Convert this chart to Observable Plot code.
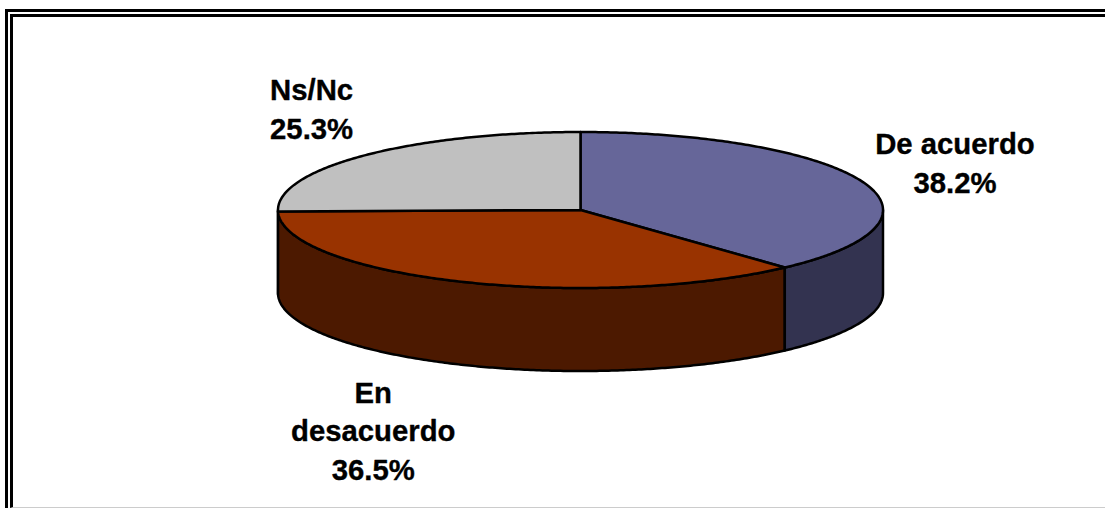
<!DOCTYPE html>
<html>
<head>
<meta charset="utf-8">
<script src="https://cdn.jsdelivr.net/npm/d3@7"></script>
<script src="https://cdn.jsdelivr.net/npm/@observablehq/plot@0.6"></script>
<style>
  html, body { margin: 0; padding: 0; background: #fff; overflow: hidden; }
  #stage { position: relative; width: 1105px; height: 508px; overflow: hidden; }
  #stage svg { position: absolute; left: 0; top: 0; background: transparent; }
  .frame { position: absolute; box-sizing: border-box; border-style: solid; border-color: #000; border-width: 3px 0 0 3px; right: 0; bottom: 0; }
  #outer { left: 5px; top: 9px; }
  #inner { left: 10px; top: 14px; border-bottom: 1px solid #ccc; }
</style>
</head>
<body>
<div id="stage">
  <div class="frame" id="outer"></div>
  <div class="frame" id="inner"></div>
</div>
<script>
const categories = ["De acuerdo", "En desacuerdo", "Ns/Nc"];
const shares = [38.2, 36.5, 25.3];
const tickLabels = ["De acuerdo\n38.2%", "En\ndesacuerdo\n36.5%", "Ns/Nc\n25.3%"];
const topColors = ["#666699", "#993300", "#C0C0C0"];
const sideColors = ["#333350", "#4C1900", "#606060"];

// Pie geometry in pixels
const W = 1105, H = 508;
const cx = 580, cy = 209.5, rx = 302.5, ry = 78, depth = 83;
const total = d3.sum(shares);
const unitDepth = depth / ry;

// Slice angles, clockwise from 12 o'clock
let acc = 0;
const slices = categories.map((name, i) => {
  const a0 = acc / total * 2 * Math.PI;
  acc += shares[i];
  const a1 = acc / total * 2 * Math.PI;
  return {name, a0, a1, mid: (a0 + a1) / 2, label: tickLabels[i], top: topColors[i], side: sideColors[i]};
});

function arc(a0, a1, drop = 0) {
  const n = Math.max(2, Math.ceil((a1 - a0) / 0.01));
  return d3.range(n + 1).map(k => {
    const t = a0 + (a1 - a0) * k / n;
    return {x: Math.sin(t), y: Math.cos(t) - drop};
  });
}
function wedge(s) {
  const c = {x: 0, y: 0};
  return [c, ...arc(s.a0, s.a1), c];
}
function wall(s) {
  const lo = Math.max(s.a0, Math.PI / 2), hi = Math.min(s.a1, 3 * Math.PI / 2);
  if (hi <= lo) return null;
  const upper = arc(lo, hi), lower = arc(lo, hi, unitDepth).reverse();
  return [...upper, ...lower, upper[0]];
}

const outline = {x: "x", y: "y", stroke: "#000", strokeWidth: 2.5, strokeLinejoin: "round", curve: "linear"};
const walls = slices.filter(wall).sort((a, b) => b.a0 - a.a0)
  .map(s => Plot.line(wall(s), {...outline, fill: s.side}));
const tops = slices.map(s => Plot.line(wedge(s), {...outline, fill: s.top}));

const labelOffsets = [[92.5, -20.5], [-88, 147.5], [-53, -48]];
const labels = slices.map((s, i) => Plot.text([s], {
  x: d => Math.sin(d.mid),
  y: d => Math.cos(d.mid),
  text: "label",
  dx: labelOffsets[i][0],
  dy: labelOffsets[i][1],
  textAnchor: "middle",
  lineAnchor: "middle",
  lineHeight: 1.31,
  fontFamily: "Liberation Sans, Arial, sans-serif",
  fontWeight: "bold",
  fontSize: 29.3,
  fill: "#000",
  stroke: "#000",
  strokeWidth: 0.35
}));

const chart = Plot.plot({
  width: W,
  height: H,
  margin: 0,
  style: {background: "transparent"},
  x: {domain: [-cx / rx, (W - cx) / rx], range: [0, W], axis: null},
  y: {domain: [cy / ry, (cy - H) / ry], range: [0, H], axis: null},
  marks: [...walls, ...tops, ...labels]
});
document.getElementById("stage").appendChild(chart);
</script>
</body>
</html>
